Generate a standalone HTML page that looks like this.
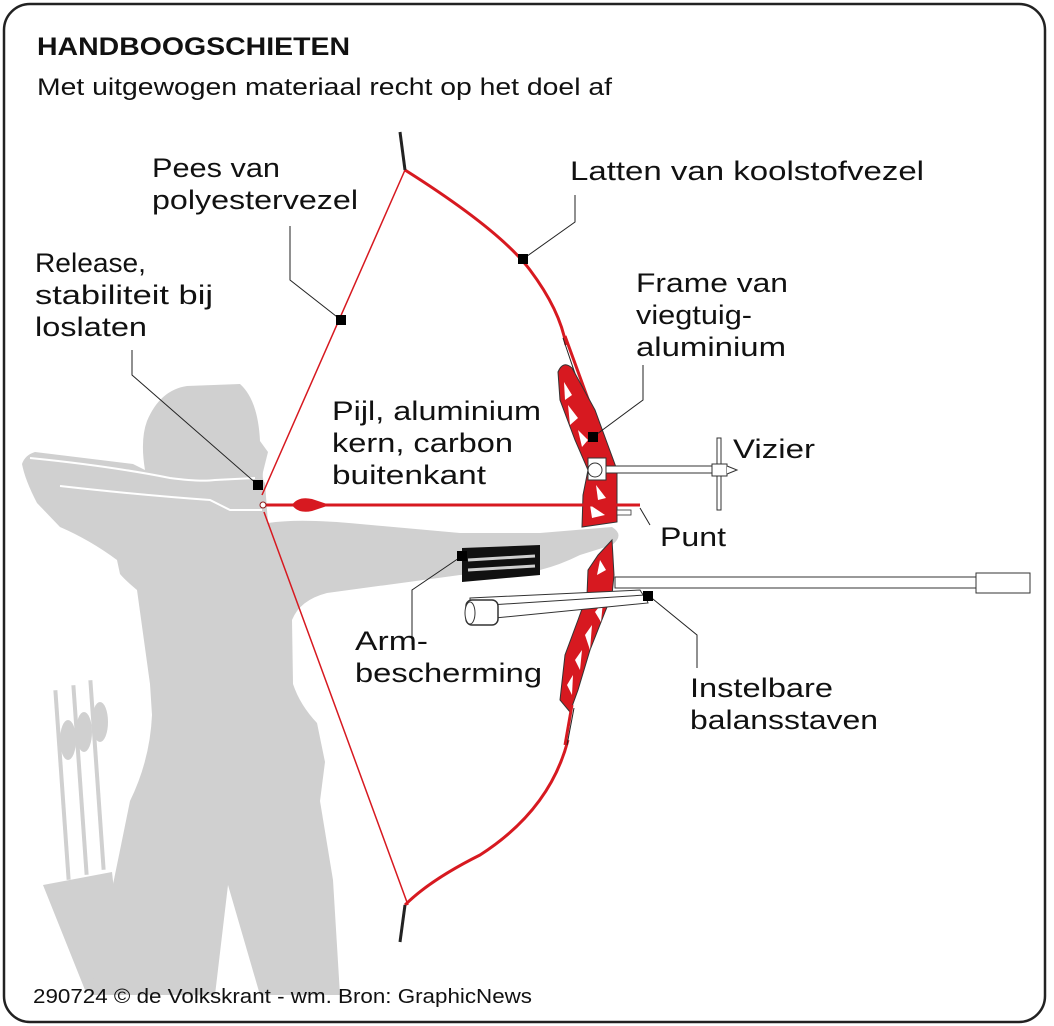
<!DOCTYPE html>
<html><head><meta charset="utf-8"><style>
html,body{margin:0;padding:0;background:#fff}
svg{display:block}
text{font-family:"Liberation Sans",sans-serif;fill:#111}
.l{font-size:27px}
</style></head><body>
<svg width="1054" height="1026" viewBox="0 0 1054 1026">
<rect x="4" y="4" width="1041" height="1018" rx="26" fill="#fff" stroke="#222" stroke-width="2.5"/>
<text x="37" y="55" font-size="25" font-weight="bold" textLength="313" lengthAdjust="spacingAndGlyphs">HANDBOOGSCHIETEN</text>
<text x="37" y="95" font-size="24" textLength="575" lengthAdjust="spacingAndGlyphs">Met uitgewogen materiaal recht op het doel af</text>

<g fill="#d0d0d0">
<polygon points="43,885 112,872 125,990 85,990"/>
<rect x="60" y="690" width="4" height="190" transform="rotate(-4 62 785)"/>
<rect x="78" y="685" width="4" height="190" transform="rotate(-4 80 780)"/>
<rect x="95" y="680" width="4" height="190" transform="rotate(-4 97 775)"/>
<ellipse cx="68" cy="740" rx="8" ry="20"/>
<ellipse cx="84" cy="732" rx="8" ry="20"/>
<ellipse cx="100" cy="722" rx="8" ry="20"/>
<path d="M187,386 L240,384 Q258,400 260,441 L268,452 L263,472 Q262,480 265,483 L268,523 Q300,518 360,524 L460,533 L540,533 L612,527 Q625,535 612,545 L580,555 Q560,565 540,570 L460,575 L327,593 Q300,600 292,620 L293,684 Q300,705 317,723 L325,762 L320,801 L333,880 L340,995 L260,995 L228,885 L215,995 L90,995 Q110,900 130,801 Q150,760 152,715 L150,684 L137,590 Q125,580 120,574 L117,560 Q90,540 60,527 L37,503 Q25,480 22,464 Q25,455 35,452 L133,464 L145,470 Q140,440 147,421 Q160,390 187,386 Z"/>
</g>
<path d="M60,486 Q140,495 210,500 L230,510 L262,510" fill="none" stroke="#fff" stroke-width="2"/>
<path d="M30,458 Q110,466 170,478 Q200,482 215,480 L255,478" fill="none" stroke="#fff" stroke-width="2"/>

<path d="M405,170 Q500,230 530,270 Q560,310 566,345" fill="none" stroke="#d71920" stroke-width="3"/>
<path d="M400,132 L405,170" stroke="#222" stroke-width="3"/>
<path d="M405,905 Q430,880 480,855 Q550,810 568,740" fill="none" stroke="#d71920" stroke-width="3"/>
<path d="M405,905 L400,942" stroke="#222" stroke-width="3"/>
<path d="M405,170 L262,495 M264,512 L408,905" fill="none" stroke="#d71920" stroke-width="1.5"/>

<path d="M565,336 L592,410" stroke="#d71920" stroke-width="3"/>
<path d="M563,338 L588,412" stroke="#222" stroke-width="1"/>
<path d="M558,372 Q563,360 572,368 L595,410 L617,470 L617,522 L582,527 L583,495 L588,470 L575,440 L560,400 Z" fill="#d71920" stroke="#333" stroke-width="1"/>
<path d="M612,540 L598,555 L588,570 L587,595 L578,620 L565,655 L560,700 L570,712 L578,690 L590,650 L605,612 L612,595 L614,575 Z" fill="#d71920" stroke="#333" stroke-width="1"/>
<path d="M572,705 L565,745" stroke="#d71920" stroke-width="3"/>
<path d="M574,708 L567,745" stroke="#222" stroke-width="1"/>
<g fill="#fff">
<polygon points="564,382 572,395 565,400"/><polygon points="568,405 578,418 570,425"/><polygon points="578,430 588,440 582,447"/>
<polygon points="596,485 606,498 598,500"/><polygon points="590,505 605,515 592,518"/>
<polygon points="600,560 606,570 597,575"/><polygon points="595,612 603,602 601,622"/><polygon points="585,635 592,625 590,650"/><polygon points="575,660 582,650 580,670"/><polygon points="567,685 573,675 572,695"/>
</g>
<rect x="617" y="510" width="14" height="5" fill="#fff" stroke="#333" stroke-width="0.8"/>
<rect x="588" y="458" width="18" height="22" fill="#fff" stroke="#333"/>
<circle cx="595" cy="470" r="7" fill="#fff" stroke="#333"/>
<rect x="606" y="466" width="110" height="7" fill="#fff" stroke="#333"/>
<rect x="717" y="438" width="4" height="72" fill="#fff" stroke="#333"/>
<rect x="712" y="464" width="15" height="12" fill="#fff" stroke="#333"/>
<path d="M727,466 L737,470 L727,474" fill="#fff" stroke="#333"/>
<rect x="615" y="577" width="362" height="11" fill="#fff" stroke="#333"/>
<rect x="976" y="573" width="54" height="20" fill="#fff" stroke="#333"/>
<path d="M470,598 L640,590 L645,598 L470,612 Z" fill="#fff" stroke="#333"/>
<path d="M490,605 L645,595 L648,603 L495,618 Z" fill="#fff" stroke="#333"/>
<rect x="466" y="600" width="32" height="25" rx="6" fill="#fff" stroke="#333" stroke-width="1.5"/>
<ellipse cx="470" cy="613" rx="5" ry="11" fill="#fff" stroke="#333"/>
<line x1="262" y1="505" x2="640" y2="505" stroke="#d71920" stroke-width="3"/>
<path d="M292,505 Q298,496 312,499 L330,505 L312,511 Q298,514 292,505 Z" fill="#d71920"/>
<circle cx="263" cy="505" r="3" fill="#fff" stroke="#8b1a1a"/>
<path d="M462,548 L540,545 L540,575 L462,582 Z" fill="#111"/>
<path d="M468,560 L535,556 M468,570 L535,566" stroke="#d0d0d0" stroke-width="3"/>

<g stroke="#222" stroke-width="1" fill="none">
<path d="M290,226 L290,280 L341,320"/>
<path d="M575,195 L575,222 L523,259"/>
<path d="M132,350 L132,375 L258,485"/>
<path d="M643,365 L643,400 L593,437"/>
<path d="M412,645 L412,590 L462,556"/>
<path d="M648,595 L697,635 L697,668"/>
<path d="M640,508 L650,525"/>
</g>
<g fill="#000">
<rect x="336" y="315" width="10" height="10"/>
<rect x="518" y="254" width="10" height="10"/>
<rect x="253" y="480" width="10" height="10"/>
<rect x="588" y="432" width="10" height="10"/>
<rect x="457" y="551" width="10" height="10"/>
<rect x="643" y="591" width="10" height="10"/>
</g>

<g class="l">
<text x="152" y="177" textLength="128" lengthAdjust="spacingAndGlyphs">Pees van</text>
<text x="152" y="209" textLength="206" lengthAdjust="spacingAndGlyphs">polyestervezel</text>
<text x="570" y="180" textLength="354" lengthAdjust="spacingAndGlyphs">Latten van koolstofvezel</text>
<text x="35" y="272" textLength="111" lengthAdjust="spacingAndGlyphs">Release,</text>
<text x="35" y="304" textLength="178" lengthAdjust="spacingAndGlyphs">stabiliteit bij</text>
<text x="35" y="336" textLength="112" lengthAdjust="spacingAndGlyphs">loslaten</text>
<text x="636" y="292" textLength="152" lengthAdjust="spacingAndGlyphs">Frame van</text>
<text x="636" y="324" textLength="116" lengthAdjust="spacingAndGlyphs">viegtuig-</text>
<text x="636" y="356" textLength="150" lengthAdjust="spacingAndGlyphs">aluminium</text>
<text x="332" y="420" textLength="209" lengthAdjust="spacingAndGlyphs">Pijl, aluminium</text>
<text x="332" y="452" textLength="181" lengthAdjust="spacingAndGlyphs">kern, carbon</text>
<text x="332" y="484" textLength="154" lengthAdjust="spacingAndGlyphs">buitenkant</text>
<text x="733" y="458" textLength="82" lengthAdjust="spacingAndGlyphs">Vizier</text>
<text x="660" y="546" textLength="66" lengthAdjust="spacingAndGlyphs">Punt</text>
<text x="355" y="650" textLength="73" lengthAdjust="spacingAndGlyphs">Arm-</text>
<text x="355" y="682" textLength="187" lengthAdjust="spacingAndGlyphs">bescherming</text>
<text x="690" y="697" textLength="143" lengthAdjust="spacingAndGlyphs">Instelbare</text>
<text x="690" y="729" textLength="188" lengthAdjust="spacingAndGlyphs">balansstaven</text>
</g>
<text x="33" y="1003" font-size="20" textLength="499" lengthAdjust="spacingAndGlyphs">290724 © de Volkskrant - wm. Bron: GraphicNews</text>
</svg>
</body></html>
